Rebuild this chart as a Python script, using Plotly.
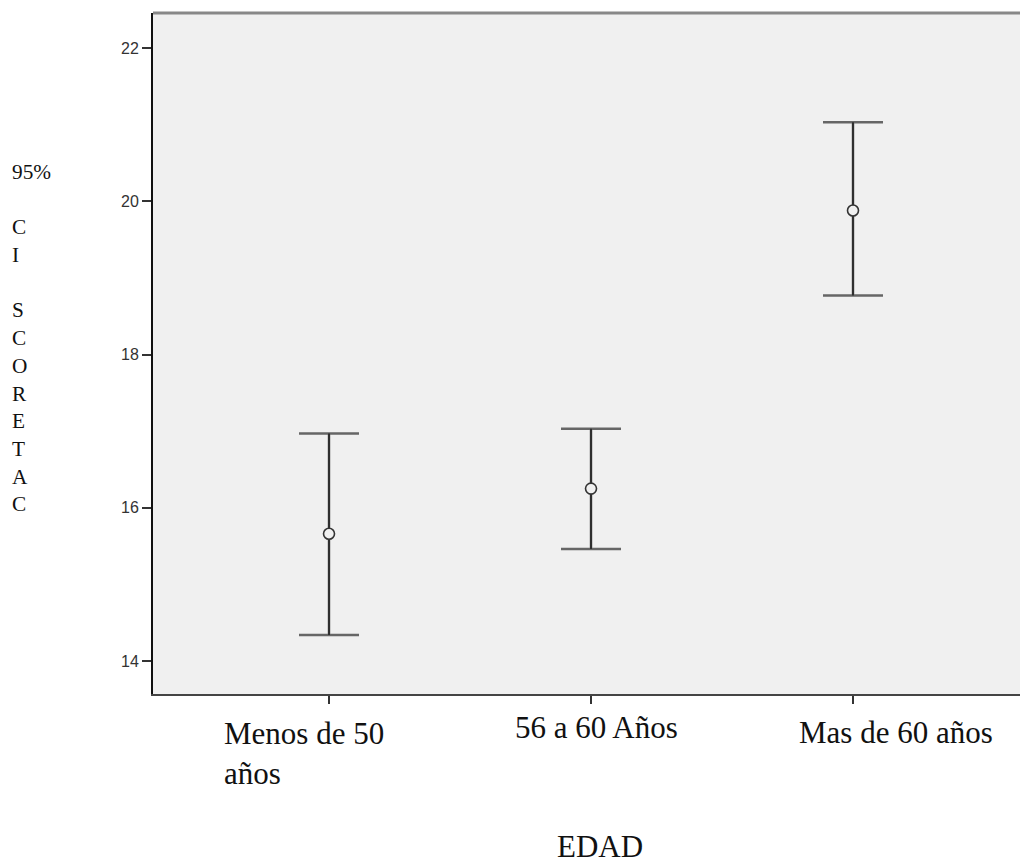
import plotly.graph_objects as go

# ---- data ----
categories = ["Menos de 50<br>años", "56 a 60 Años", "Mas de 60 años"]
means = [15.66, 16.25, 19.88]
upper = [16.97, 17.03, 21.03]
lower = [14.34, 15.46, 18.77]
y_ticks = [14, 16, 18, 20, 22]
x_title = "EDAD"
y_title_lines = ["95%", "", "C", "I", "", "S", "C", "O", "R", "E", "T", "A", "C"]

xs = list(range(len(categories)))
err_plus = [u - m for u, m in zip(upper, means)]
err_minus = [m - l for m, l in zip(means, lower)]

W, H = 1020, 867
ML, MR, MT, MB = 153, 0, 13, 173

fig = go.Figure()
# caps + bars (gray)
fig.add_trace(go.Scatter(
    x=xs, y=means, mode="markers",
    marker=dict(size=1, color="rgba(0,0,0,0)"),
    error_y=dict(type="data", symmetric=False, array=err_plus, arrayminus=err_minus,
                 color="#666666", thickness=2.5, width=30),
    hoverinfo="skip", showlegend=False))
# darker vertical line + circle marker
fig.add_trace(go.Scatter(
    x=xs, y=means, mode="markers",
    marker=dict(symbol="circle", size=11, color="#f0f0f0",
                line=dict(color="#333333", width=1.6)),
    error_y=dict(type="data", symmetric=False, array=err_plus, arrayminus=err_minus,
                 color="#222222", thickness=1.6, width=0),
    showlegend=False))

fig.update_layout(
    width=W, height=H,
    margin=dict(l=ML, r=MR, t=MT, b=MB, pad=0),
    paper_bgcolor="white", plot_bgcolor="#f0f0f0",
    xaxis=dict(range=[-0.6718, 2.6374], tickvals=xs, showticklabels=False,
               ticks="outside", ticklen=8, tickwidth=1.5, tickcolor="#333333",
               showgrid=False, zeroline=False,
               showline=True, linecolor="#444444", linewidth=2),
    yaxis=dict(range=[13.569, 22.457], tickvals=y_ticks,
               ticks="outside", ticklen=9, tickwidth=1.5, tickcolor="#333333",
               tickfont=dict(family="Liberation Sans, Arial", size=16, color="#333333"),
               showgrid=False, zeroline=False,
               showline=True, linecolor="#111111", linewidth=2),
)

# top border
fig.add_shape(type="line", xref="paper", yref="paper", x0=0, x1=1, y0=1, y1=1,
              line=dict(color="#888888", width=3))

plot_h = H - MT - MB
def py(p):
    return (H - MB - p) / plot_h
x0px, xunit = 329, 262
def xdata(p):
    return (p - x0px) / xunit

serif = "Liberation Serif, Times New Roman, serif"
label_pos = [(222, 714), (513, 708), (797, 713)]
for cat, (lx, ty) in zip(categories, label_pos):
    fig.add_annotation(text=cat, x=xdata(lx), y=py(ty), xref="x", yref="paper",
                       xanchor="left", yanchor="top", align="left", showarrow=False,
                       font=dict(family=serif, size=31, color="#111111"))

fig.add_annotation(text=x_title, x=xdata(600), y=py(866), xref="x", yref="paper",
                   xanchor="center", yanchor="bottom", showarrow=False,
                   font=dict(family=serif, size=31, color="#111111"))

fig.add_annotation(text="<br>".join(y_title_lines), x=(10 - ML) / (W - ML - MR), y=py(338),
                   xref="paper", yref="paper", xanchor="left", yanchor="middle",
                   align="left", showarrow=False,
                   font=dict(family=serif, size=21.3, color="#111111"))

fig.write_html("out.html")
